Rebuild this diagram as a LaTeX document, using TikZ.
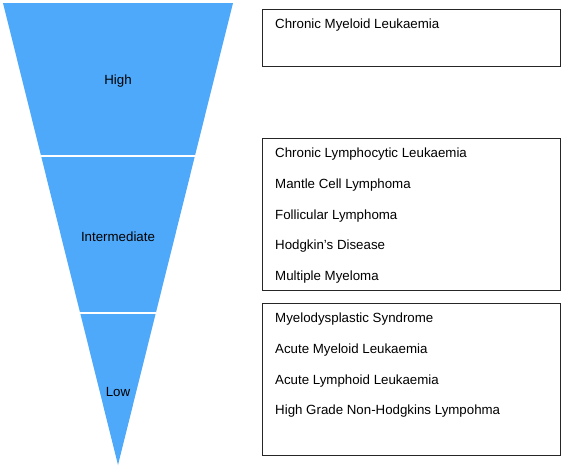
\documentclass[tikz,border=0pt]{standalone}
\usepackage{fontspec}
\setmainfont{Liberation Sans}
\usetikzlibrary{positioning, calc}
\definecolor{funnelblue}{HTML}{4FA9FA}

\begin{document}
\begin{tikzpicture}[x=1pt, y=1pt,
  level/.style={font=\fontsize{13.3}{15}\selectfont},
  riskbox/.style={draw=black!85, line width=1pt, anchor=north west,
                  minimum width=298pt, inner sep=0pt},
  itemlist/.style={align=left, inner sep=0pt,
                   font=\fontsize{13.3}{30.7}\selectfont}]
  \useasboundingbox (0,0) rectangle (563,-472);

  % funnel
  \coordinate (tl) at (3,-3);
  \coordinate (tr) at (233,-3);
  \coordinate (apex) at (118,-465);
  \fill[funnelblue] (tl) -- (tr) -- (apex) -- cycle;
  \coordinate (cutal) at ($(tl)!0.331!(apex)$);
  \coordinate (cutar) at ($(tr)!0.331!(apex)$);
  \coordinate (cutbl) at ($(tl)!0.671!(apex)$);
  \coordinate (cutbr) at ($(tr)!0.671!(apex)$);
  \draw[white, line width=2pt] (cutal) -- (cutar);
  \draw[white, line width=2pt] (cutbl) -- (cutbr);

  \node[level] (high) at (118,-81) {High};
  \node[level] (mid) at (118,-237) {Intermediate};
  \node[level] (low) at (118,-392) {Low};

  % boxes
  \node[riskbox, minimum height=57pt] (boxhigh) at (262,-9) {};
  \node[riskbox, minimum height=152pt] (boxmid) at (262,-138) {};
  \node[riskbox, minimum height=152pt] (boxlow) at (262,-303) {};

  \node[itemlist, below right=10pt and 13pt of boxhigh.north west] (listhigh) {%
    Chronic Myeloid Leukaemia};
  \node[itemlist, below right=10pt and 13pt of boxmid.north west] (listmid) {%
    Chronic Lymphocytic Leukaemia\\
    Mantle Cell Lymphoma\\
    Follicular Lymphoma\\
    Hodgkin’s Disease\\
    Multiple Myeloma};
  \node[itemlist, below right=10pt and 13pt of boxlow.north west] (listlow) {%
    Myelodysplastic Syndrome\\
    Acute Myeloid Leukaemia\\
    Acute Lymphoid Leukaemia\\
    High Grade Non-Hodgkins Lympohma};
\end{tikzpicture}
\end{document}
